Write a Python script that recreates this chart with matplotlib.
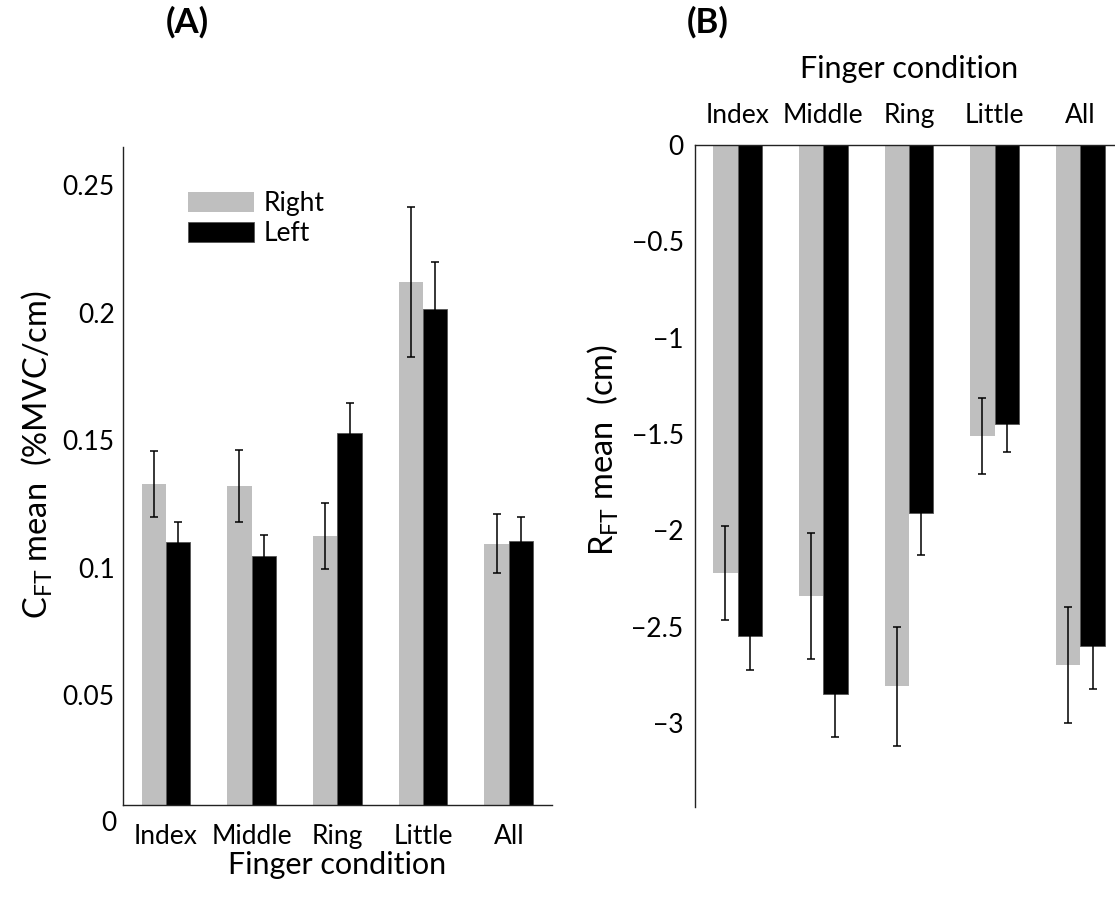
import matplotlib
matplotlib.use("Agg")
import matplotlib.pyplot as plt
import numpy as np

plt.rcParams["font.family"] = ["Lato", "DejaVu Sans"]
plt.rcParams["mathtext.fontset"] = "custom"
plt.rcParams["mathtext.rm"] = "Lato"

fingers = ["Index", "Middle", "Ring", "Little", "All"]
hands = ["Right", "Left"]

# Coefficient (panel A)
cft_right = [0.133, 0.132, 0.1125, 0.212, 0.1095]
cft_left = [0.110, 0.1047, 0.1528, 0.2014, 0.1106]
cft_right_err = [0.0129, 0.0141, 0.0129, 0.0294, 0.0116]
cft_left_err = [0.0078, 0.0083, 0.0116, 0.0185, 0.0095]
cft_ticks = [0.05, 0.1, 0.15, 0.2, 0.25]

# Intercept (panel B)
rft_right = [-2.22, -2.34, -2.81, -1.51, -2.70]
rft_left = [-2.55, -2.85, -1.91, -1.45, -2.60]
rft_right_err = [0.245, 0.325, 0.307, 0.197, 0.30]
rft_left_err = [0.175, 0.22, 0.22, 0.144, 0.225]
rft_ticks = [0, -0.5, -1, -1.5, -2, -2.5, -3]

GRAY = "#bfbfbf"
BLACK = "#000000"
W, H = 1115, 897
TICK_FS = 19
LABEL_FS = 22
YLABEL_FS = 23.5

fig = plt.figure(figsize=(W / 100, H / 100), dpi=100)

def fbox(x0, y0, x1, y1):
    return [x0 / W, 1 - y1 / H, (x1 - x0) / W, (y1 - y0) / H]

axA = fig.add_axes(fbox(123, 147, 551.7, 805))
axB = fig.add_axes(fbox(694.7, 145, 1123.2, 807))

x = np.arange(len(fingers))
bw = 0.284
err_kw = dict(ecolor="black", elinewidth=1.1, capsize=2.6, capthick=1.1)

for ax, r, l, re, le in [
    (axA, cft_right, cft_left, cft_right_err, cft_left_err),
    (axB, rft_right, rft_left, rft_right_err, rft_left_err),
]:
    ax.bar(x - bw / 2, r, bw, color=GRAY, edgecolor="none", label=hands[0],
           yerr=re, error_kw=err_kw, zorder=2)
    ax.bar(x + bw / 2, l, bw, color=BLACK, edgecolor="#555555", linewidth=0.6,
           label=hands[1], yerr=le, error_kw=err_kw, zorder=2)
    ax.set_xlim(-0.5, 4.5)
    ax.tick_params(length=0, labelsize=TICK_FS)
    for s in ax.spines.values():
        s.set_linewidth(1.0)
        s.set_color("#222222")

# Panel A
a_bottom = 18 / 2552
axA.set_ylim(a_bottom, a_bottom + 658 / 2552)
axA.set_yticks(cft_ticks)
axA.set_yticklabels([f"{t:g}" for t in cft_ticks])
axA.text(-0.015, 0, "0", transform=axA.get_yaxis_transform(), ha="right",
         va="center", fontsize=TICK_FS, clip_on=False)
axA.spines["top"].set_visible(False)
axA.spines["right"].set_visible(False)
axA.set_xticks(x)
axA.set_xticklabels(fingers)
axA.tick_params(axis="x", pad=14)
axA.tick_params(axis="y", pad=6)
axA.set_xlabel("Finger condition", fontsize=LABEL_FS, labelpad=1)
axA.set_ylabel(r"C$_{\mathregular{FT}}$ mean  (%MVC/cm)", fontsize=YLABEL_FS)
axA.yaxis.set_label_coords(-0.158, 0.532)
axA.legend(loc="upper left", bbox_to_anchor=(0.152, 0.933), frameon=False,
           fontsize=TICK_FS, handlelength=2.5, handleheight=0.76,
           handletextpad=0.35, labelspacing=0.2, borderpad=0, borderaxespad=0)

# Panel B
axB.set_ylim(-662 / 192.7, 0)
axB.set_yticks(rft_ticks)
axB.set_yticklabels(["0" if t == 0 else f"\u2212{abs(t):g}" for t in rft_ticks])
axB.spines["bottom"].set_visible(False)
axB.spines["right"].set_visible(False)
axB.xaxis.tick_top()
axB.xaxis.set_label_position("top")
axB.set_xticks(x)
axB.set_xticklabels(fingers)
axB.tick_params(axis="x", pad=12.5)
axB.tick_params(axis="y", pad=8)
axB.set_xlabel("Finger condition", fontsize=LABEL_FS, labelpad=18)
axB.set_ylabel(r"R$_{\mathregular{FT}}$ mean  (cm)", fontsize=YLABEL_FS)
axB.yaxis.set_label_coords(-0.172, 0.539)

fig.text(187 / W, 1 - 22 / H, "(A)", fontsize=25, fontweight="bold",
         ha="center", va="center")
fig.text(708 / W, 1 - 22 / H, "(B)", fontsize=25, fontweight="bold",
         ha="center", va="center")

fig.savefig("out.png", dpi=100)
